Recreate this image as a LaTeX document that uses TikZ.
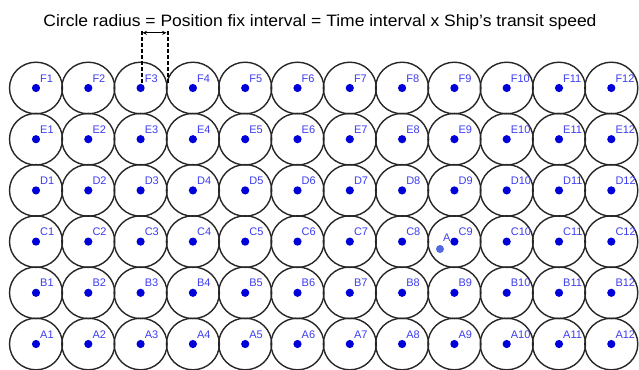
\documentclass[tikz,border=0pt]{standalone}
\usepackage{fontspec}
\setmainfont{Liberation Sans}
\usetikzlibrary{shapes.geometric,calc,arrows.meta}
\definecolor{dotblue}{HTML}{0000D8}
\definecolor{lblblue}{HTML}{3C3CF0}
\definecolor{ptblue}{HTML}{5468E0}
\definecolor{ringgray}{HTML}{262626}
\begin{document}
\begin{tikzpicture}[x=1pt,y=-1pt,
  ring/.style={ellipse,draw=ringgray,line width=1.4pt,minimum width=53pt,minimum height=51.6pt,inner sep=0pt},
  dot/.style={circle,fill=dotblue,minimum size=8.2pt,inner sep=0pt},
  ptdot/.style={circle,fill=ptblue,minimum size=8pt,inner sep=0pt},
  lbl/.style={text=lblblue,font=\fontsize{11}{13}\selectfont,inner sep=0pt,anchor=base west},
  dimline/.style={dash pattern=on 4pt off 2pt,line width=2pt,black},
  dimarrow/.style={{Stealth[length=4.5pt,width=4pt]}-{Stealth[length=4.5pt,width=4pt]},line width=0.7pt,black},
  titlefont/.style={font=\fontsize{16.5}{19}\selectfont,inner sep=0pt,anchor=base}]
\useasboundingbox (0,0) rectangle (639,369);
\foreach \r/\row in {0/F,1/E,2/D,3/C,4/B,5/A}{
  \foreach \c in {1,...,12}{
    \pgfmathsetmacro{\xx}{36+52.3*(\c-1)}
    \pgfmathsetmacro{\yy}{88+51.2*\r}
    \node[ring] (ring\row\c) at (\xx,\yy) {};
    \node[dot] (d\row\c) at (\xx,\yy) {};
    \node[lbl] (l\row\c) at ($(d\row\c)+(4,-6)$) {\row\c};
  }
}
% point A
\node[ptdot] (ptA) at (440,249) {};
\node[lbl] (lptA) at (443,241) {A};
% title
\node[titlefont] (title) at (320,26.7) {\scalebox{1.06}[1]{Circle radius = Position fix interval = Time interval x Ship’s transit speed}};
% dimension marker
\coordinate (tL) at (141.5,31);
\coordinate (bL) at (141.5,84);
\coordinate (tR) at (167.5,31);
\coordinate (bR) at (167.5,84);
\draw[dimline] (tL) -- (bL);
\draw[dimline] (tR) -- (bR);
\draw[dimarrow] ($(tL)+(1,1.8)$) -- ($(tR)+(-1,1.8)$);
\end{tikzpicture}
\end{document}
